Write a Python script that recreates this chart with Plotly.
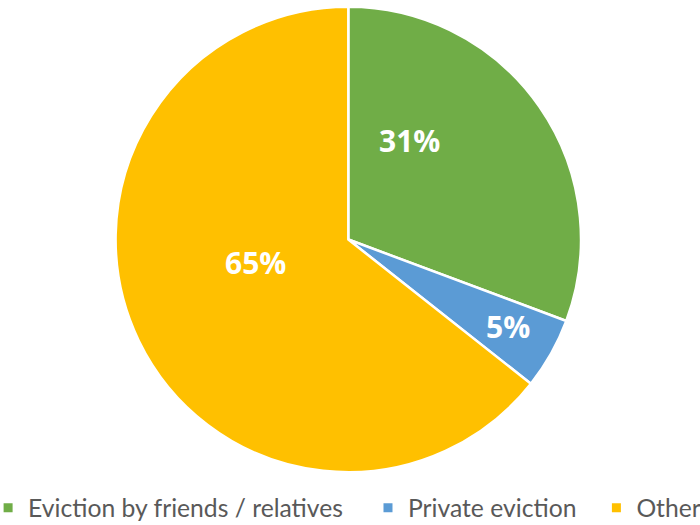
import math
import plotly.graph_objects as go

# Share of cases by reason
categories = ["Eviction by friends / relatives", "Private eviction", "Other"]
shares = [31, 5, 65]
slice_colors = ["#70AD47", "#5B9BD5", "#FFC000"]

# Label placement inside each slice: angular shift from the slice middle (deg)
# and distance from the centre as a fraction of the radius
label_shift_deg = [-23.7, -0.9, 12.1]
label_radius = [0.50, 0.78, 0.41]

# Horizontal anchor of each legend entry (paper fraction)
legend_x = [-0.017, 0.5257, 0.852]

W, H = 700, 525
cx, cy, r = 348.3, 239.5, 232.7

fig = go.Figure()

fig.add_trace(
    go.Pie(
        labels=categories,
        values=shares,
        textinfo="none",
        marker=dict(colors=slice_colors, line=dict(color="white", width=2.5)),
        sort=False,
        direction="clockwise",
        rotation=0,
        showlegend=False,
        domain=dict(
            x=[(cx - r) / W, (cx + r) / W],
            y=[1 - (cy + r) / H, 1 - (cy - r) / H],
        ),
    )
)

# Percentage labels placed from the slice angles
total = sum(shares)
start = 0.0
for v, shift, rf in zip(shares, label_shift_deg, label_radius):
    span = 360.0 * v / total
    a = math.radians(start + span / 2 + shift)
    px = cx + rf * r * math.sin(a)
    py = cy - rf * r * math.cos(a)
    fig.add_annotation(
        x=px / W,
        y=1 - py / H,
        xref="paper",
        yref="paper",
        text=f"{v}%",
        showarrow=False,
        xanchor="center",
        yanchor="middle",
        font=dict(family="Open Sans", size=30, color="white", weight="bold"),
    )
    start += span

# One legend per category so each entry sits at its own position
legend_names = ["legend", "legend2", "legend3"]
for name, color, lg in zip(categories, slice_colors, legend_names):
    fig.add_trace(
        go.Scatter(
            x=[None],
            y=[None],
            mode="markers",
            name=name,
            marker=dict(symbol="square", size=9, color=color),
            legend=lg,
            showlegend=True,
            hoverinfo="skip",
        )
    )

legend_style = dict(
    orientation="h",
    xanchor="left",
    y=0.032,
    yanchor="middle",
    font=dict(family="Lato", size=24.7, color="#595959"),
    bgcolor="rgba(0,0,0,0)",
    itemwidth=30,
)

fig.update_layout(
    width=W,
    height=H,
    margin=dict(l=0, r=0, t=0, b=0, autoexpand=False),
    paper_bgcolor="white",
    plot_bgcolor="rgba(0,0,0,0)",
    xaxis=dict(visible=False),
    yaxis=dict(visible=False),
    legend=dict(x=legend_x[0], **legend_style),
    legend2=dict(x=legend_x[1], **legend_style),
    legend3=dict(x=legend_x[2], **legend_style),
)

fig.write_html("out.html")
